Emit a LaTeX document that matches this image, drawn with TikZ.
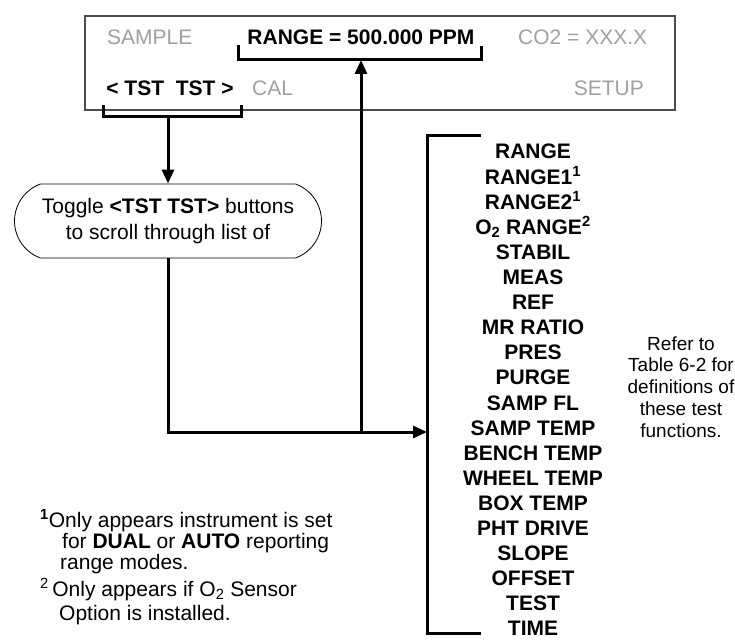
\documentclass[tikz,border=0pt]{standalone}
\usepackage{fontspec}
\setmainfont{Liberation Sans}
\usepackage{xcolor}
\usepackage{tikz}
\usetikzlibrary{arrows.meta,positioning,calc,shapes.misc}
\definecolor{dimgray}{HTML}{A0A0A0}

\begin{document}
\begin{tikzpicture}[x=1pt,y=-1pt,
  txt/.style={inner sep=0pt, font=\fontsize{21}{26}\selectfont},
  dim/.style={txt, text=dimgray},
  bold/.style={inner sep=0pt, font=\fontsize{21}{26}\selectfont\bfseries},
  note/.style={inner sep=0pt, font=\fontsize{19}{22}\selectfont},
  brk/.style={line width=3pt},
  conn/.style={line width=3pt, -{Triangle[length=14pt,width=12pt]}}]
  \useasboundingbox (0,0) rectangle (735,639);

  \node[draw=black!70, line width=1.2pt, minimum width=590pt, minimum height=94pt, inner sep=0pt] (disp) at (380,63) {};
  \node[dim, anchor=base west] (sample) at (107,45) {SAMPLE};
  \node[bold, anchor=base] (range) at (361,45) {RANGE = 500.000 PPM};
  \node[dim, anchor=base west] (co2) at (518,45) {CO2 = XXX.X};
  \node[bold, anchor=base] (tst) at (170,96) {<~TST~~TST~>};
  \node[dim, anchor=base west] (cal) at (252,96) {CAL};
  \node[dim, anchor=base east] (setup) at (644,96) {SETUP};

  \draw[brk] (238,45) -- (238,60) -- (481,60) -- (481,46);
  \draw[brk] (103,105) -- (103,117) -- (241,117) -- (241,105);
  \coordinate (rngmid) at (361,60);
  \coordinate (tstmid) at (168,117);

  \node[draw, line width=0.8pt, rounded rectangle, rounded rectangle arc length=140,
        minimum width=307pt, minimum height=74pt, txt, align=center] (toggle) at (168,221)
        {Toggle \textbf{<TST TST>} buttons\\to scroll through list of};
  \draw[conn] (tstmid) -- (toggle.north);

  \draw[brk] (481,136) -- (427,136) -- (427,633) -- (481,633);
  \coordinate (listin) at (427,432);
  \coordinate (junc) at (361,432);
  \draw[conn] (toggle.south) |- (listin);
  \draw[conn] (junc) -- (rngmid);

  \foreach \t [count=\i] in {RANGE, RANGE1\textsuperscript{1}, RANGE2\textsuperscript{1},
      O\textsubscript{2} RANGE\textsuperscript{2}, STABIL, MEAS, REF, MR RATIO, PRES, PURGE,
      SAMP FL, SAMP TEMP, BENCH TEMP, WHEEL TEMP, BOX TEMP, PHT DRIVE, SLOPE, OFFSET, TEST, TIME} {
    \pgfmathsetmacro{\yy}{159+(\i-1)*25.1}
    \node[bold, anchor=base] (item\i) at (533,\yy) {\t};
  }

  \foreach \t [count=\i] in {Refer to, Table 6-2 for, definitions of, these test, functions.} {
    \pgfmathsetmacro{\yy}{350+(\i-1)*21.75}
    \node[note, anchor=base] (note\i) at (681,\yy) {\t};
  }

  \foreach \x/\y/\t [count=\i] in {40/527/{\textsuperscript{\textbf{1}}Only appears instrument is set},
      62/548/{for \textbf{DUAL} or \textbf{AUTO} reporting},
      60/569/{range modes.},
      40/596/{\textsuperscript{2}\,Only appears if O\textsubscript{2} Sensor},
      59/620/{Option is installed.}} {
    \node[txt, anchor=base west] (fn\i) at (\x,\y) {\t};
  }
\end{tikzpicture}
\end{document}
